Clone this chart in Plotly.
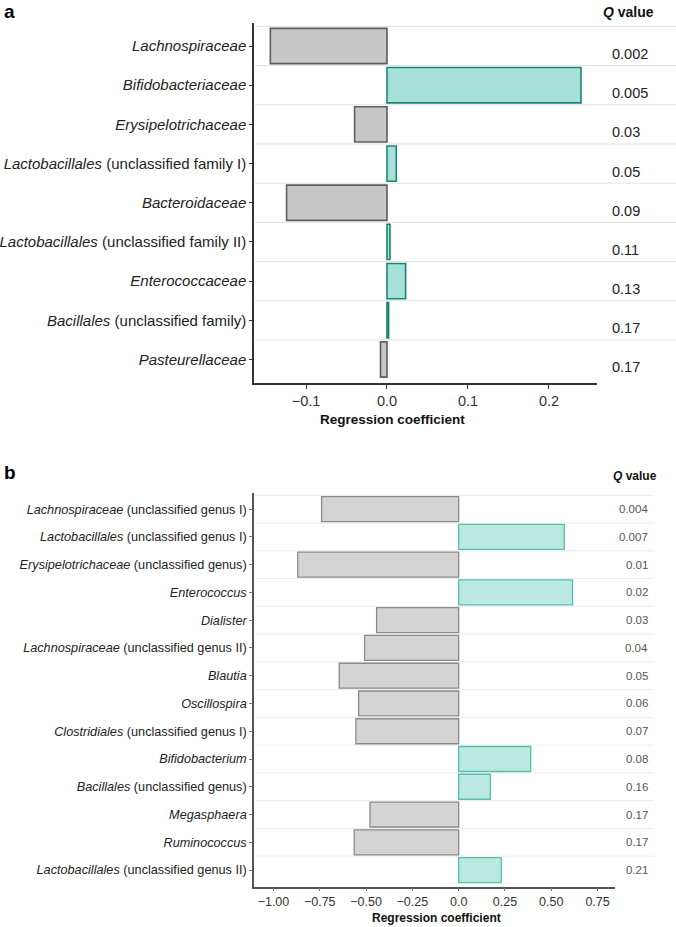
import plotly.graph_objects as go

# ---------------- Data ----------------
fam_labels = [
    "<i>Lachnospiraceae</i>",
    "<i>Bifidobacteriaceae</i>",
    "<i>Erysipelotrichaceae</i>",
    "<i>Lactobacillales</i> (unclassified family I)",
    "<i>Bacteroidaceae</i>",
    "<i>Lactobacillales</i> (unclassified family II)",
    "<i>Enterococcaceae</i>",
    "<i>Bacillales</i> (unclassified family)",
    "<i>Pasteurellaceae</i>",
]
fam_coef = [-0.144, 0.2395, -0.040, 0.0115, -0.124, 0.0037, 0.023, 0.002, -0.008]
fam_q = ["0.002", "0.005", "0.03", "0.05", "0.09", "0.11", "0.13", "0.17", "0.17"]

gen_labels = [
    "<i>Lachnospiraceae</i> (unclassified genus I)",
    "<i>Lactobacillales</i> (unclassified genus I)",
    "<i>Erysipelotrichaceae</i> (unclassified genus)",
    "<i>Enterococcus</i>",
    "<i>Dialister</i>",
    "<i>Lachnospiraceae</i> (unclassified genus II)",
    "<i>Blautia</i>",
    "<i>Oscillospira</i>",
    "<i>Clostridiales</i> (unclassified genus I)",
    "<i>Bifidobacterium</i>",
    "<i>Bacillales</i> (unclassified genus)",
    "<i>Megasphaera</i>",
    "<i>Ruminococcus</i>",
    "<i>Lactobacillales</i> (unclassified genus II)",
]
gen_coef = [-0.74, 0.57, -0.869, 0.615, -0.443, -0.508, -0.645, -0.54, -0.555,
            0.389, 0.171, -0.479, -0.564, 0.230]
gen_q = ["0.004", "0.007", "0.01", "0.02", "0.03", "0.04", "0.05", "0.06", "0.07",
         "0.08", "0.16", "0.17", "0.17", "0.21"]

ticks_a = [-0.1, 0.0, 0.1, 0.2]
ticks_a_txt = ["\u22120.1", "0.0", "0.1", "0.2"]
ticks_b = [-1.0, -0.75, -0.5, -0.25, 0.0, 0.25, 0.5, 0.75]
ticks_b_txt = ["\u22121.00", "\u22120.75", "\u22120.50", "\u22120.25", "0.0", "0.25", "0.50", "0.75"]

# ---------------- Layout geometry ----------------
W, H = 676, 927
FONT = "Liberation Sans, Arial, Helvetica, sans-serif"

def px_x(x):
    return x / W

def px_y(y):
    return 1 - y / H

GRAY_A, GRAY_A_LINE = "#c6c6c6", "#5e5e5e"
TEAL_A, TEAL_A_LINE = "#a6e0d9", "#1a8576"
GRAY_B, GRAY_B_LINE = "#d4d4d4", "#8a8a8a"
TEAL_B, TEAL_B_LINE = "#bce8e2", "#55bfb0"

fig = go.Figure()

fig.add_trace(go.Bar(
    x=fam_coef, y=fam_labels, orientation="h", width=0.9,
    marker=dict(color=[TEAL_A if v > 0 else GRAY_A for v in fam_coef],
                line=dict(color=[TEAL_A_LINE if v > 0 else GRAY_A_LINE for v in fam_coef], width=1.6)),
    xaxis="x", yaxis="y", showlegend=False, hoverinfo="x+y",
))
fig.add_trace(go.Bar(
    x=gen_coef, y=gen_labels, orientation="h", width=0.9,
    marker=dict(color=[TEAL_B if v > 0 else GRAY_B for v in gen_coef],
                line=dict(color=[TEAL_B_LINE if v > 0 else GRAY_B_LINE for v in gen_coef], width=1.3)),
    xaxis="x2", yaxis="y2", showlegend=False, hoverinfo="x+y",
))

na, nb = len(fam_labels), len(gen_labels)

shapes = []
# row separator lines
for k in range(na):
    shapes.append(dict(type="line", xref="paper", yref="y",
                       x0=px_x(255), x1=1.0, y0=k - 0.5, y1=k - 0.5,
                       line=dict(color="#e2e2e2", width=1), layer="below"))
for k in range(nb):
    shapes.append(dict(type="line", xref="paper", yref="y2",
                       x0=px_x(255), x1=px_x(654), y0=k - 0.5, y1=k - 0.5,
                       line=dict(color="#ececec", width=1), layer="below"))

annotations = []
for i, q in enumerate(fam_q):
    annotations.append(dict(x=px_x(610), xref="paper", y=i, yref="y", text=q,
                            showarrow=False, xanchor="left", yanchor="middle", yshift=-8,
                            font=dict(family=FONT, size=14.5, color="#222")))
for i, q in enumerate(gen_q):
    annotations.append(dict(x=px_x(650), xref="paper", y=i, yref="y2", text=q,
                            showarrow=False, xanchor="right", yanchor="middle",
                            font=dict(family=FONT, size=11.5, color="#555")))

annotations += [
    dict(x=px_x(628), y=px_y(12), xref="paper", yref="paper", text="<b><i>Q</i> value</b>",
         showarrow=False, xanchor="center", yanchor="middle",
         font=dict(family=FONT, size=14, color="#111")),
    dict(x=px_x(635), y=px_y(476), xref="paper", yref="paper", text="<b><i>Q</i> value</b>",
         showarrow=False, xanchor="center", yanchor="middle",
         font=dict(family=FONT, size=12, color="#111")),
    dict(x=px_x(392), y=px_y(420), xref="paper", yref="paper", text="<b>Regression coefficient</b>",
         showarrow=False, xanchor="center", yanchor="middle",
         font=dict(family=FONT, size=13.5, color="#111")),
    dict(x=px_x(436), y=px_y(918), xref="paper", yref="paper", text="<b>Regression coefficient</b>",
         showarrow=False, xanchor="center", yanchor="middle",
         font=dict(family=FONT, size=12, color="#111")),
    dict(x=px_x(2), y=px_y(11), xref="paper", yref="paper", text="<b>a</b>",
         showarrow=False, xanchor="left", yanchor="middle",
         font=dict(family=FONT, size=19, color="#000")),
    dict(x=px_x(2), y=px_y(472), xref="paper", yref="paper", text="<b>b</b>",
         showarrow=False, xanchor="left", yanchor="middle",
         font=dict(family=FONT, size=19, color="#000")),
]

fig.update_layout(
    width=W, height=H,
    margin=dict(l=0, r=0, t=0, b=0, autoexpand=False),
    paper_bgcolor="white", plot_bgcolor="white",
    bargap=0.1,
    font=dict(family=FONT, color="#222"),
    shapes=shapes, annotations=annotations,
    xaxis=dict(domain=[px_x(254), px_x(597)], anchor="y", automargin=False,
               range=[-0.1642, 0.2593], tickvals=ticks_a, ticktext=ticks_a_txt,
               showgrid=False, zeroline=False, showline=True, linecolor="#333", linewidth=1.5,
               ticks="outside", ticklen=4, tickcolor="#333", tickwidth=1,
               tickfont=dict(family=FONT, size=14.5, color="#333")),
    yaxis=dict(domain=[px_y(383), px_y(22.5)], anchor="x", automargin=False,
               range=[na - 1 + 0.6, -0.6], type="category",
               categoryorder="array", categoryarray=fam_labels,
               showgrid=False, zeroline=False, showline=True, linecolor="#333", linewidth=1.5,
               ticks="outside", ticklen=3, tickcolor="#333", tickwidth=1,
               tickfont=dict(family=FONT, size=15, color="#222")),
    xaxis2=dict(domain=[px_x(254), px_x(615)], anchor="y2", automargin=False,
                range=[-1.105, 0.844], tickvals=ticks_b, ticktext=ticks_b_txt,
                showgrid=False, zeroline=False, showline=True, linecolor="#555", linewidth=1.5,
                ticks="outside", ticklen=3, tickcolor="#777", tickwidth=1,
                tickfont=dict(family=FONT, size=12.5, color="#333")),
    yaxis2=dict(domain=[px_y(886.7), px_y(492.5)], anchor="x2", automargin=False,
                range=[nb - 1 + 0.6, -0.6], type="category",
                categoryorder="array", categoryarray=gen_labels,
                showgrid=False, zeroline=False, showline=True, linecolor="#555", linewidth=1.5,
                ticks="outside", ticklen=3, tickcolor="#777", tickwidth=1,
                tickfont=dict(family=FONT, size=12.7, color="#222")),
)

fig.write_html(
    "out.html",
    config={"displayModeBar": False},
    post_script="document.body.style.margin='0';document.body.style.overflow='hidden';",
)
